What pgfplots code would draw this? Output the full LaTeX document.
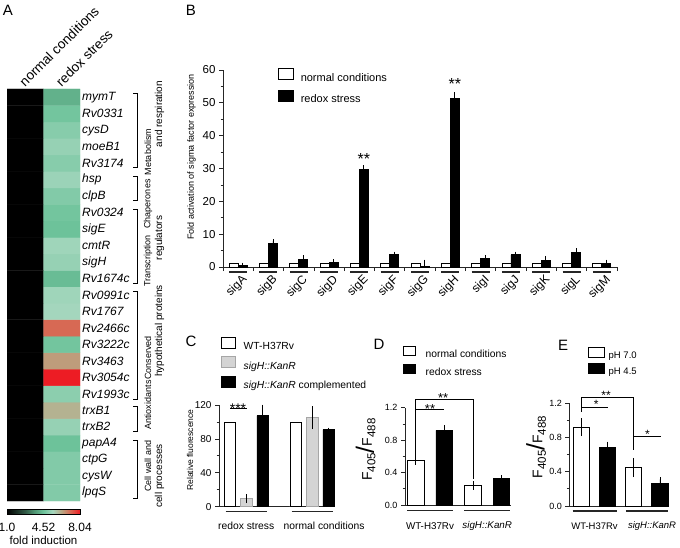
\documentclass[border=0pt]{standalone}
\usepackage{pgfplots}
\pgfplotsset{compat=1.18}
\usepackage{fontspec}
\setmainfont{Liberation Sans}
\newcommand{\fs}[1]{\fontsize{#1}{#1}\selectfont}
\newcommand{\Fr}{\fs{14}F\raisebox{-3.5pt}{\fs{11.5}405}\raisebox{-2pt}{\fs{25}/}F\raisebox{-3.5pt}{\fs{11.5}488}}
\definecolor{axgray}{gray}{0.15}
\pgfplotsset{
  every axis/.append style={/pgf/number format/assume math mode=true},
  boxleg/.style n args={4}{legend image code/.code={\draw[##1,line width=0.7pt] (0pt,#3) rectangle (#1,#4); \path (#2,0pt);}},
  legbase/.style={legend cell align=left, legend style={draw=none, fill=none, inner sep=0pt, outer sep=0pt, nodes={inner sep=0pt}, column sep=0pt}},
  prism/.style={scale only axis, clip=false, axis x line*=bottom, axis y line*=left,
    axis line style={line width=0.8pt, axgray}, tick style={line width=0.8pt, axgray},
    tick align=outside, major tick length=4pt, minor tick length=2.5pt},
  wbar/.style={fill=white, draw=black, line width=0.8pt},
  kbar/.style={fill=black, draw=black, line width=0.8pt},
  gbar/.style={fill=black!17, draw=black!35, line width=0.8pt},
  ebar/.style={error bars/.cd, y dir=#1, y explicit, error mark=-, error mark options={line width=0.8pt, mark size=2pt}, error bar style={line width=0.8pt, black}},
}
\begin{document}
\begin{tikzpicture}
\useasboundingbox (0pt,0pt) rectangle (680pt,-548pt);

% ---------------- Panel A: heatmap ----------------
\begin{axis}[
  at={(7pt,-501pt)}, anchor=south west, scale only axis,
  width=73pt, height=412pt,
  xmin=-0.5, xmax=1.5, ymin=-0.5, ymax=24.5, enlargelimits=false,
  axis line style={draw=none}, tick style={draw=none},
  xtick={0,1}, xticklabels={normal conditions, redox stress},
  xticklabel pos=upper,
  xticklabel style={font=\fs{13.5}, rotate=45, anchor=south west, inner sep=1pt},
  ytick={0,...,24},
  yticklabels={lpqS,cysW,ctpG,papA4,trxB2,trxB1,Rv1993c,Rv3054c,Rv3463,Rv3222c,Rv2466c,Rv1767,Rv0991c,Rv1674c,sigH,cmtR,sigE,Rv0324,clpB,hsp,Rv3174,moeB1,cysD,Rv0331,mymT},
  yticklabel pos=upper,
  yticklabel style={font=\fs{12}\itshape, anchor=west, inner sep=0pt, xshift=2pt},
  colormap={fold}{rgb255=(0,0,0) rgb255=(25,45,35) rgb255=(50,90,70) rgb255=(80,150,115) rgb255=(110,195,155) rgb255=(165,215,190) rgb255=(185,165,130) rgb255=(218,100,80) rgb255=(237,28,36)},
  point meta min=1, point meta max=8.04,
  colorbar horizontal,
  colorbar style={
    at={([yshift=-7pt]parent axis.south west)}, anchor=north west,
    scale only axis, width=73pt, height=5pt,
    xtick={1,4.52,8.04}, xticklabels={1.0,4.52,8.04},
    xticklabel style={font=\fs{12}, inner sep=1pt, yshift=-4pt},
    tick align=outside, major tick length=3pt,
    xtick style={black, line width=0.8pt},
    axis line style={black, line width=0.6pt},
    xlabel={fold induction}, xlabel style={font=\fs{11.5}, inner sep=1pt, yshift=-2.5pt},
  },
]
\addplot[matrix plot*, mesh/cols=2, point meta=explicit] table[meta=c] {
x y c
0 0 1
1 0 4.84
0 1 1
1 1 4.84
0 2 1
1 2 4.84
0 3 1
1 3 4.50
0 4 1
1 4 5.16
0 5 1
1 5 6.06
0 6 1
1 6 5.00
0 7 1
1 7 8.04
0 8 1
1 8 6.41
0 9 1
1 9 4.60
0 10 1
1 10 7.09
0 11 1
1 11 5.38
0 12 1
1 12 5.31
0 13 1
1 13 4.39
0 14 1
1 14 5.16
0 15 1
1 15 5.31
0 16 1
1 16 4.50
0 17 1
1 17 4.60
0 18 1
1 18 4.84
0 19 1
1 19 5.24
0 20 1
1 20 4.92
0 21 1
1 21 5.16
0 22 1
1 22 4.92
0 23 1
1 23 4.60
0 24 1
1 24 4.17
};
\end{axis}

% brackets and group labels of panel A
\begin{scope}[line width=0.9pt]
\draw (133pt,-93pt) -- (137pt,-93pt) -- (137pt,-167pt) -- (133pt,-167pt);
\draw (133pt,-176pt) -- (137pt,-176pt) -- (137pt,-200pt) -- (133pt,-200pt);
\draw (133pt,-209pt) -- (137pt,-209pt) -- (137pt,-283pt) -- (133pt,-283pt);
\draw (133pt,-291pt) -- (137pt,-291pt) -- (137pt,-399pt) -- (133pt,-399pt);
\draw (133pt,-406pt) -- (137pt,-406pt) -- (137pt,-431pt) -- (133pt,-431pt);
\draw (133pt,-440pt) -- (137pt,-440pt) -- (137pt,-498pt) -- (133pt,-498pt);
\end{scope}
\begin{scope}[every node/.style={rotate=90, font=\fs{9}, inner sep=0pt}]
\node at (148pt,-152pt) {Metabolism};
\node at (148pt,-204pt) {Chaperones};
\node at (148pt,-261pt) {Transcription};
\node at (148pt,-358pt) {Conserved};
\node at (148pt,-405pt) {Antioxidants};
\node at (148pt,-466pt) {Cell wall and};
\end{scope}
\begin{scope}[every node/.style={rotate=90, font=\fs{10}, inner sep=0pt}]
\node at (159.5pt,-114pt) {and respiration};
\node at (159.5pt,-238pt) {regulators};
\node at (159.5pt,-331pt) {hypothetical proteins};
\node at (159.5pt,-476pt) {cell processes};
\end{scope}

% panel letters
\begin{scope}[every node/.style={font=\fs{15}, inner sep=0pt}]
\node at (8pt,-10pt) {A};
\node at (191pt,-10pt) {B};
\node at (191pt,-341pt) {C};
\node at (379pt,-344pt) {D};
\node at (563pt,-345pt) {E};
\end{scope}

% ---------------- Panel B ----------------
\begin{axis}[prism, at={(223pt,-267pt)}, anchor=south west, width=394pt, height=197pt,
  xmin=-0.5, xmax=12.5, ymin=0, ymax=60,
  ytick={0,10,...,60}, minor ytick={5,15,...,55},
  yticklabel style={font=\fs{11.5}},
  xtick={-0.5,0.5,...,12.5}, xticklabels={},
  extra x ticks={0,...,12},
  extra x tick labels={sigA,sigB,sigC,sigD,sigE,sigF,sigG,sigH,sigI,sigJ,sigK,sigL,sigM},
  extra x tick style={major tick length=0pt, xtick style={draw=none}, xticklabel style={font=\fs{12}, xshift=7pt, yshift=-11pt, rotate=45, anchor=east, inner sep=0pt}},
  ybar, bar width=9pt,
  ylabel={Fold activation of sigma factor expression},
  ylabel style={at={(axis description cs:-0.08,0.558)}, anchor=center, font=\fs{9}},
  legbase, legend style={at={(0.1396,1.0102)}, anchor=north west, font=\fs{11}, row sep=7.2pt},
]
\addlegendimage{boxleg={15pt}{22pt}{-1.5pt}{9.5pt}, wbar}
\addlegendentry{normal conditions}
\addlegendimage{boxleg={15pt}{22pt}{-1.5pt}{9.5pt}, kbar}
\addlegendentry{redox stress}
\addplot[wbar, bar shift=-4.5pt, forget plot] coordinates {
(0,1) (1,1) (2,1) (3,1) (4,1) (5,1) (6,1) (7,1) (8,1) (9,1) (10,1) (11,1) (12,1)};
\addplot[kbar, bar shift=4.5pt, forget plot, ebar=plus] coordinates {
(0,0.6) +- (0,0.1)
(1,7.1) +- (0,0.8)
(2,2.3) +- (0,0.6)
(3,1.4) +- (0,0.4)
(4,29.6) +- (0,0.8)
(5,3.7) +- (0,0.4)
(6,0.3) +- (0,1.3)
(7,51.4) +- (0,1.2)
(8,2.7) +- (0,0.4)
(9,3.7) +- (0,0.4)
(10,2.1) +- (0,0.7)
(11,4.4) +- (0,0.7)
(12,1.1) +- (0,0.5)
};
\pgfplotsinvokeforeach{0,...,12}{
  \draw[line width=1.3pt, black!85] ([xshift=-9pt,yshift=-5pt]axis cs:#1,0) -- ([xshift=9pt,yshift=-5pt]axis cs:#1,0);
}
\node[font=\fs{16}, inner sep=0pt] at (axis cs:4.15,33.0) {**};
\node[font=\fs{16}, inner sep=0pt] at (axis cs:7.15,55.6) {**};
\end{axis}

% ---------------- Panel C ----------------
\begin{axis}[prism, at={(219pt,-506.7pt)}, anchor=south west, width=116pt, height=101.7pt,
  xmin=-0.412, xmax=1.345, ymin=0, ymax=120,
  ytick={0,40,80,120}, minor ytick={20,60,100},
  yticklabel style={font=\fs{10}},
  xtick={0,1.18}, xticklabels={redox stress, normal conditions}, xtick style={draw=none},
  xticklabel style={font=\fs{10.3}, anchor=center, yshift=-15pt},
  ybar, bar width=11.5pt,
  ylabel={Relative fluorescence},
  ylabel style={at={(axis description cs:-0.25,0.557)}, anchor=center, font=\fs{8.5}},
  legbase, legend style={at={(0.017,1.669)}, anchor=north west, font=\fs{10.3}, row sep=5.2pt},
]
\addlegendimage{boxleg={14pt}{22pt}{-1.5pt}{9.5pt}, wbar}
\addlegendentry{WT-H37Rv}
\addlegendimage{boxleg={14pt}{22pt}{-1.5pt}{9.5pt}, gbar}
\addlegendentry{\textit{sigH::KanR}}
\addlegendimage{boxleg={14pt}{22pt}{-1.5pt}{9.5pt}, kbar}
\addlegendentry{\textit{sigH::KanR} complemented}
\addplot[wbar, bar shift=-16.5pt, forget plot] coordinates {(0,100) (1,100)};
\addplot[gbar, bar shift=0pt, forget plot, ebar=both] coordinates {(0,9.5) +- (0,3) (1,105) +- (0,11)};
\addplot[kbar, bar shift=16.5pt, forget plot, ebar=plus] coordinates {(0,107.5) +- (0,10.5) (1,91) +- (0,0)};
\draw[line width=1.1pt, black!85] ([xshift=-20.5pt,yshift=-5pt]axis cs:0,0) -- ([xshift=20.5pt,yshift=-5pt]axis cs:0,0);
\draw[line width=1.1pt, black!85] ([xshift=-20.5pt,yshift=-5pt]axis cs:1,0) -- ([xshift=20.5pt,yshift=-5pt]axis cs:1,0);
\draw[line width=1pt] (axis cs:-0.245,116.1) -- (axis cs:0.008,116.1);
\node[font=\fs{14}, inner sep=0pt] at (axis cs:-0.124,115.3) {***};
\end{axis}

% ---------------- Panel D ----------------
\begin{axis}[prism, at={(405pt,-505pt)}, anchor=south west, width=105.5pt, height=97.3pt,
  xmin=-0.437, xmax=1.407, ymin=0, ymax=1.2,
  ytick={0,0.4,0.8,1.2}, yticklabels={0.0,0.4,0.8,1.2}, minor ytick={0.2,0.6,1.0},
  yticklabel style={font=\fs{9}},
  xtick={0,1}, xticklabels={WT-H37Rv, \textit{sigH::KanR}}, xtick style={draw=none},
  xticklabel style={font=\fs{9.8}, anchor=center, yshift=-16.7pt},
  ybar, bar width=16.5pt,
  ylabel={\Fr},
  ylabel style={at={(axis description cs:-0.374,0.57)}, anchor=center},
  legbase, legend style={at={(-0.019,1.634)}, anchor=north west, font=\fs{10.3}, row sep=5.6pt},
]
\addlegendimage{boxleg={12pt}{22pt}{-1pt}{8pt}, wbar}
\addlegendentry{normal conditions}
\addlegendimage{boxleg={12pt}{22pt}{-1pt}{8pt}, kbar}
\addlegendentry{redox stress}
\addplot[wbar, bar shift=-14.2pt, forget plot, ebar=both] coordinates {(0,0.55) +- (0,0.03) (1,0.24) +- (0,0.03)};
\addplot[kbar, bar shift=14.2pt, forget plot, ebar=both] coordinates {(0,0.92) +- (0,0.04) (1,0.33) +- (0,0.01)};
\draw[line width=1.1pt, black!85] ([xshift=-23pt,yshift=-5.5pt]axis cs:0,0) -- ([xshift=23pt,yshift=-5.5pt]axis cs:0,0);
\draw[line width=1.1pt, black!85] ([xshift=-23pt,yshift=-5.5pt]axis cs:1,0) -- ([xshift=23pt,yshift=-5.5pt]axis cs:1,0);
\draw[line width=1pt] (axis cs:-0.248,0.60) -- (axis cs:-0.248,1.30) -- (axis cs:0.752,1.30) -- (axis cs:0.752,0.32);
\draw[line width=1pt] (axis cs:-0.248,1.18) -- (axis cs:0.248,1.18);
\node[font=\fs{13}, inner sep=0pt] at (axis cs:0,1.185) {**};
\node[font=\fs{13}, inner sep=0pt] at (axis cs:0.23,1.32) {**};
\end{axis}

% ---------------- Panel E ----------------
\begin{axis}[prism, at={(569.3pt,-506pt)}, anchor=south west, width=98.7pt, height=102.7pt,
  xmin=-0.482, xmax=1.405, ymin=0, ymax=1.2,
  ytick={0,0.4,0.8,1.2}, yticklabels={0.0,0.4,0.8,1.2}, minor ytick={0.2,0.6,1.0},
  yticklabel style={font=\fs{9}},
  xtick={0,1.1}, xticklabels={WT-H37Rv, \textit{sigH::KanR}}, xtick style={draw=none},
  xticklabel style={font=\fs{9.5}, anchor=center, yshift=-16pt},
  ybar, bar width=16.3pt,
  ylabel={\Fr},
  ylabel style={at={(axis description cs:-0.337,0.574)}, anchor=center},
  legbase, legend style={at={(0.189,1.548)}, anchor=north west, font=\fs{9.5}, row sep=2.5pt},
]
\addlegendimage{boxleg={16pt}{20pt}{-1pt}{9pt}, wbar}
\addlegendentry{pH 7.0}
\addlegendimage{boxleg={16pt}{20pt}{-1pt}{9pt}, kbar}
\addlegendentry{pH 4.5}
\addplot[wbar, bar shift=-13.1pt, forget plot, ebar=both] coordinates {(0,0.92) +- (0,0.08) (1,0.45) +- (0,0.09)};
\addplot[kbar, bar shift=13.1pt, forget plot, ebar=both] coordinates {(0,0.68) +- (0,0.05) (1,0.26) +- (0,0.05)};
\draw[line width=1.1pt, black!85] ([xshift=-22pt,yshift=-5pt]axis cs:0,0) -- ([xshift=22pt,yshift=-5pt]axis cs:0,0);
\draw[line width=1.1pt, black!85] ([xshift=-21pt,yshift=-5pt]axis cs:1,0) -- ([xshift=21pt,yshift=-5pt]axis cs:1,0);
\draw[line width=1pt] (axis cs:-0.25,1.10) -- (axis cs:-0.25,1.27) -- (axis cs:0.75,1.27) -- (axis cs:0.75,0.65);
\draw[line width=1pt] (axis cs:-0.25,1.153) -- (axis cs:0.25,1.153);
\draw[line width=1pt] (axis cs:0.75,0.81) -- (axis cs:1.265,0.81);
\node[font=\fs{12}, inner sep=0pt] at (axis cs:0.03,1.188) {*};
\node[font=\fs{12}, inner sep=0pt] at (axis cs:0.22,1.293) {**};
\node[font=\fs{12}, inner sep=0pt] at (axis cs:1.01,0.838) {*};
\end{axis}
\end{tikzpicture}
\end{document}
